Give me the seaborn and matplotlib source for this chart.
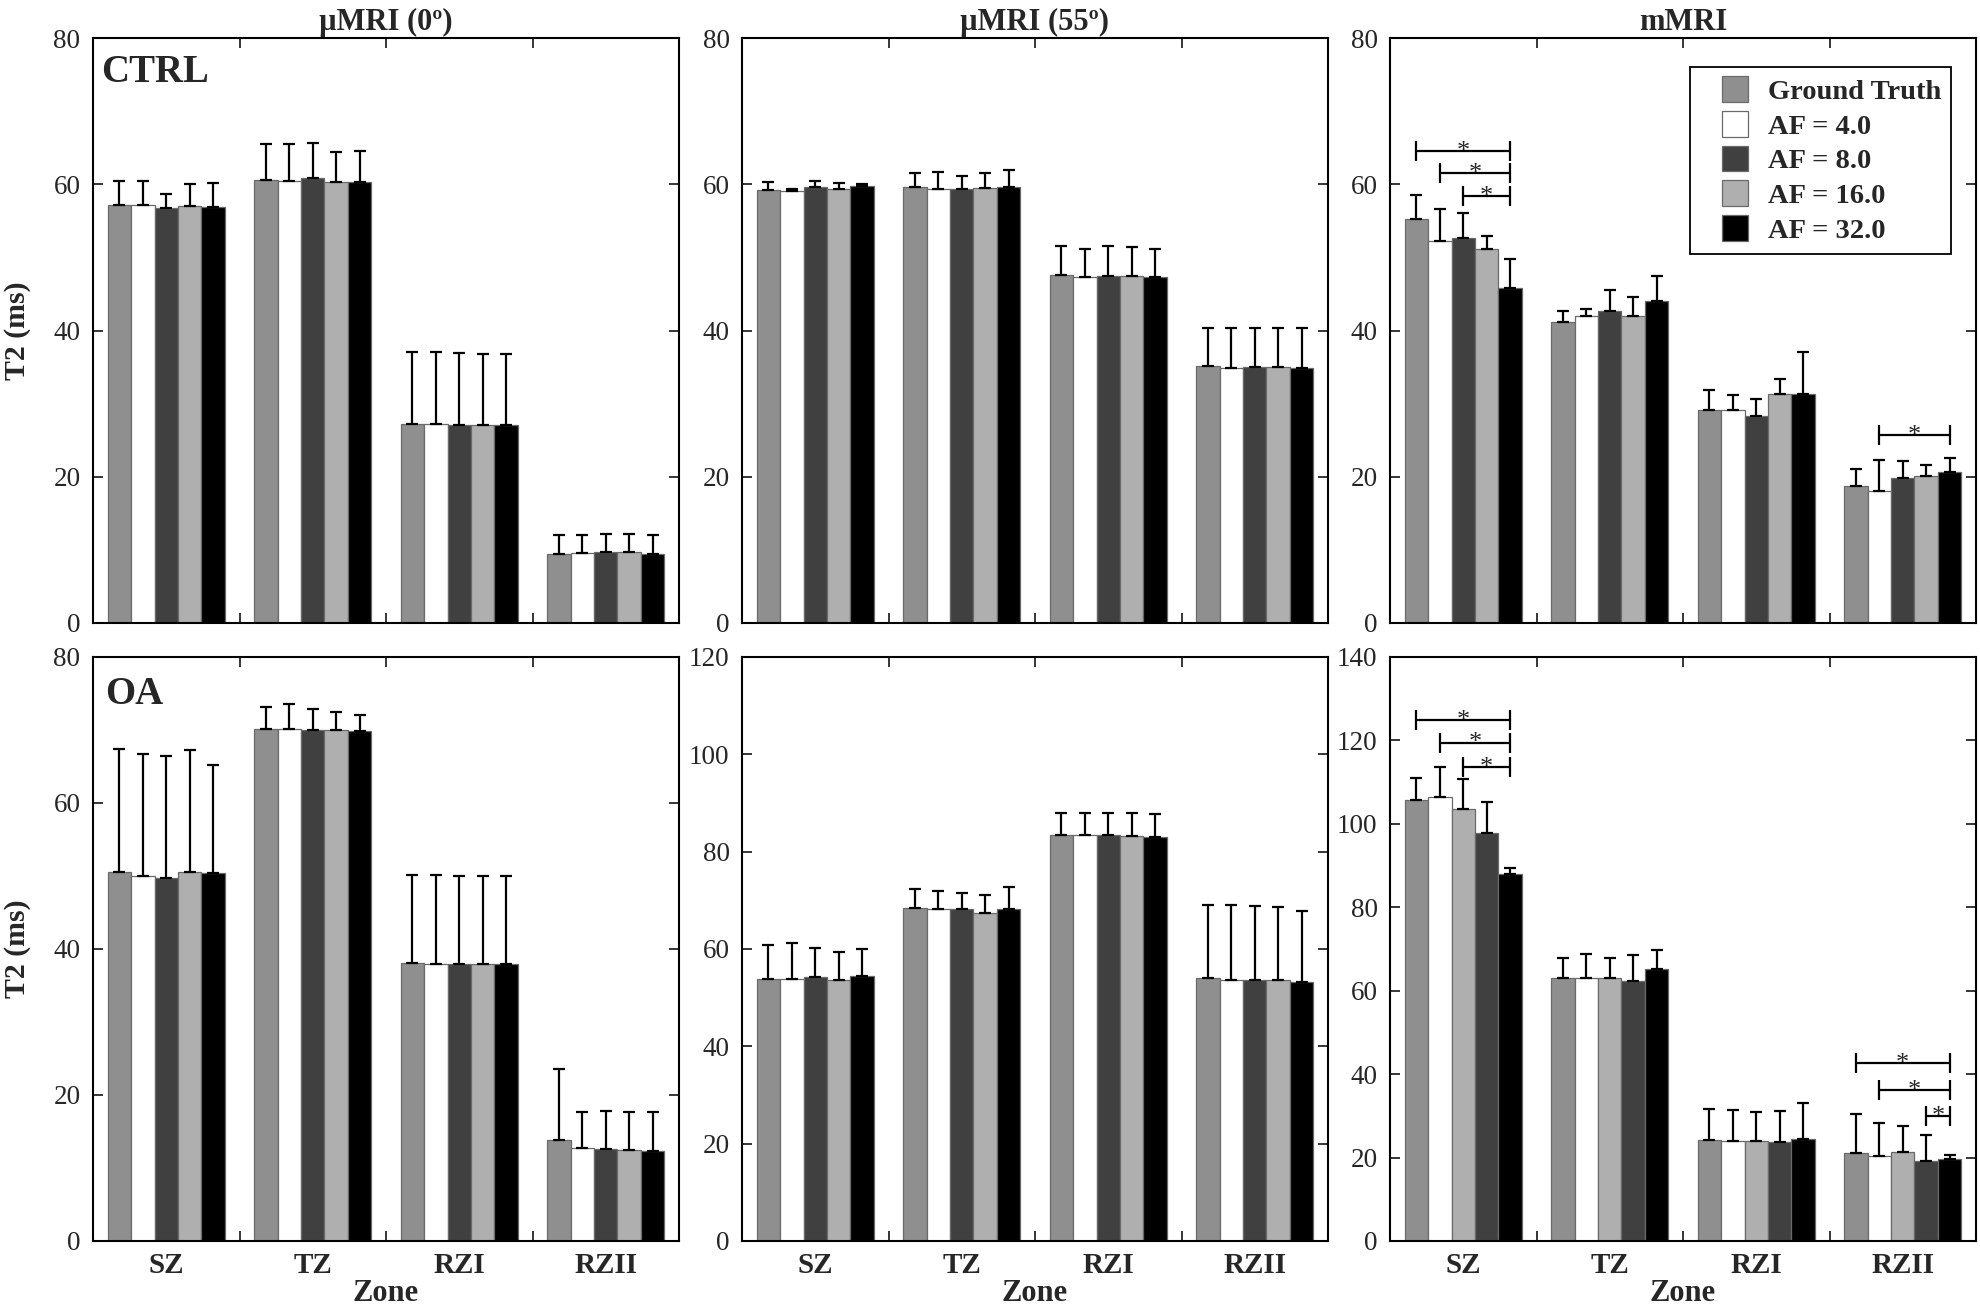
import numpy as np
import pandas as pd
import matplotlib
matplotlib.use('Agg')
import matplotlib.pyplot as plt
from matplotlib.container import BarContainer
from matplotlib.legend_handler import HandlerPatch
from matplotlib.patches import Rectangle
import seaborn as sns

# ---- data ----
zones = ['SZ', 'TZ', 'RZI', 'RZII']
series = ['Ground Truth', 'AF = 4.0', 'AF = 8.0', 'AF = 16.0', 'AF = 32.0']
col_titles = ['\u00b5MRI (0\u00ba)', '\u00b5MRI (55\u00ba)', 'mMRI']
row_labels = ['CTRL', 'OA']

# mean T2 per zone (rows) and series (columns)
ctrl_0_mean = [[57.1, 57.2, 56.7, 57.0, 56.9], [60.6, 60.4, 60.9, 60.3, 60.3],
               [27.2, 27.2, 27.1, 27.1, 27.1], [9.4, 9.55, 9.7, 9.7, 9.5]]
ctrl_0_err = [[3.3, 3.2, 1.9, 3.1, 3.3], [4.9, 5.1, 4.7, 4.1, 4.2],
              [9.8, 9.8, 9.8, 9.7, 9.7], [2.6, 2.55, 2.5, 2.5, 2.5]]

ctrl_55_mean = [[59.2, 59.1, 59.6, 59.4, 59.8], [59.6, 59.4, 59.4, 59.5, 59.6],
                [47.6, 47.3, 47.5, 47.5, 47.3], [35.1, 34.85, 35.0, 35.0, 34.9]]
ctrl_55_err = [[1.1, 0.3, 0.8, 0.8, 0.3], [2.0, 2.3, 1.7, 2.0, 2.3],
               [4.0, 3.9, 4.0, 3.9, 3.9], [5.3, 5.45, 5.3, 5.3, 5.4]]

ctrl_m_mean = [[55.3, 52.3, 52.6, 51.2, 45.8], [41.2, 42.0, 42.7, 42.05, 44.0],
               [29.1, 29.1, 28.3, 31.3, 31.3], [18.7, 18.0, 19.8, 20.05, 20.6]]
ctrl_m_err = [[3.2, 4.3, 3.5, 1.7, 4.0], [1.5, 0.9, 2.9, 2.55, 3.4],
              [2.75, 2.1, 2.35, 2.1, 5.8], [2.4, 4.3, 2.4, 1.6, 2.0]]

oa_0_mean = [[50.55, 49.97, 49.74, 50.5, 50.4], [70.1, 70.1, 70.0, 70.0, 69.8],
             [38.05, 37.9, 37.9, 37.9, 38.0], [13.9, 12.7, 12.6, 12.5, 12.3]]
oa_0_err = [[16.85, 16.7, 16.7, 16.7, 14.75], [3.0, 3.4, 2.9, 2.5, 2.3],
            [12.05, 12.2, 12.1, 12.1, 12.0], [9.7, 5.0, 5.2, 5.2, 5.4]]

oa_55_mean = [[53.8, 53.8, 54.3, 53.7, 54.5], [68.5, 68.3, 68.2, 67.5, 68.3],
              [83.4, 83.4, 83.4, 83.3, 83.0], [54.0, 53.7, 53.7, 53.6, 53.2]]
oa_55_err = [[7.1, 7.5, 6.0, 5.6, 5.4], [3.8, 3.6, 3.4, 3.6, 4.5],
             [4.5, 4.5, 4.6, 4.7, 4.7], [15.0, 15.3, 15.2, 15.1, 14.7]]

oa_m_mean = [[105.6, 106.5, 103.6, 97.8, 88.0], [63.1, 63.1, 63.1, 62.4, 65.3],
             [24.3, 24.0, 23.9, 23.8, 24.4], [21.0, 20.3, 21.3, 19.2, 19.55]]
oa_m_err = [[5.5, 7.1, 7.1, 7.5, 1.5], [4.8, 5.6, 4.7, 6.2, 4.4],
            [7.4, 7.5, 7.0, 7.3, 8.7], [9.5, 7.9, 6.2, 6.3, 1.05]]

y_max = [[80, 80, 80], [80, 120, 140]]

# significance brackets: (zone, from series index, to series index, height)
ctrl_m_sig = [('SZ', 0, 4, 64.6), ('SZ', 1, 4, 61.5), ('SZ', 2, 4, 58.4),
              ('RZII', 1, 4, 25.75)]
oa_m_sig = [('SZ', 0, 4, 124.9), ('SZ', 1, 4, 119.5), ('SZ', 2, 4, 113.6),
            ('RZII', 0, 4, 42.7), ('RZII', 1, 4, 36.2), ('RZII', 3, 4, 30.0)]

GRAY, WHITE, DARK, LIGHT, BLACK = '#8f8f8f', '#ffffff', '#404040', '#afafaf', '#000000'
pal_std = [GRAY, WHITE, DARK, LIGHT, BLACK]
pal_swap = [GRAY, WHITE, LIGHT, DARK, BLACK]   # bottom-right panel in the original

# ---- style ----
sns.set_style('ticks')
plt.rcParams['font.family'] = ['Liberation Serif', 'DejaVu Serif']

fig = plt.figure(figsize=(19.8, 13.07), dpi=100)
W, H = 1980, 1307
col_x = [93, 742, 1390]
col_w = 586
row_y = [(38, 623), (657, 1241)]


def make_df(means):
    rows = []
    for zi, z in enumerate(zones):
        for si, s in enumerate(series):
            rows.append({'zone': z, 'af': s, 't2': means[zi][si]})
    return pd.DataFrame(rows)


def draw_panel(ax, means, errs, palette, ymax, show_legend=False):
    df = make_df(means)
    sns.barplot(data=df, x='zone', y='t2', hue='af', order=zones, hue_order=series,
                palette=palette, errorbar=None, width=0.8, edgecolor='#6a6a6a',
                linewidth=0.9, saturation=1, legend=show_legend, ax=ax)
    bars = [c for c in ax.containers if isinstance(c, BarContainer)]
    # one-sided error bars from bar geometry
    for si, cont in enumerate(bars):
        xs = [b.get_x() + b.get_width() / 2 for b in cont]
        hs = [b.get_height() for b in cont]
        up = [errs[zi][si] for zi in range(len(zones))]
        ax.errorbar(xs, hs, yerr=[np.zeros(len(up)), up], fmt='none', ecolor='black',
                    elinewidth=1.6, capsize=4, capthick=1.6, zorder=5)
    ax.set_xlim(-0.5, len(zones) - 0.5)
    ax.set_ylim(0, ymax)
    ax.set_yticks(np.arange(0, ymax + 1, 20))
    ax.set_xticks(range(len(zones)))
    ax.set_xticks([0.5, 1.5, 2.5], minor=True)
    ax.tick_params(axis='x', which='major', length=0, labelsize=21, pad=8)
    ax.tick_params(axis='x', which='minor', direction='in', length=7, width=1.3,
                   top=True, bottom=True)
    ax.tick_params(axis='y', which='major', direction='in', length=7, width=1.3,
                   left=True, right=True, labelsize=19.5, pad=9)
    for lab in ax.get_xticklabels():
        lab.set_fontweight('bold')
    for sp in ax.spines.values():
        sp.set_linewidth(1.5)
        sp.set_color('black')
    ax.set_xlabel('')
    ax.set_ylabel('')
    return bars


def draw_sig(ax, bars, sig):
    for zone, a, b, y in sig:
        zi = zones.index(zone)
        ba = bars[a][zi]
        bb = bars[b][zi]
        x0 = ba.get_x() + ba.get_width() / 2
        x1 = bb.get_x() + bb.get_width() / 2
        ax.plot([x0, x1], [y, y], color='black', lw=1.6, zorder=6)
        ax.plot([x0, x1], [y, y], ls='none', marker='|', ms=14, mew=1.6,
                color='black', zorder=6)
        ax.annotate('*', ((x0 + x1) / 2, y), xytext=(0, -5), textcoords='offset points',
                    ha='center', va='baseline', fontsize=19, zorder=7)


def square_patch(legend, orig_handle, xdescent, ydescent, width, height, fontsize):
    # square swatch pushed to the right end of the handle box
    side = 0.9 * fontsize
    return Rectangle((-xdescent + width - side, -ydescent + (height - side) / 2),
                     side, side)


panel_means = [[ctrl_0_mean, ctrl_55_mean, ctrl_m_mean], [oa_0_mean, oa_55_mean, oa_m_mean]]
panel_errs = [[ctrl_0_err, ctrl_55_err, ctrl_m_err], [oa_0_err, oa_55_err, oa_m_err]]

for r in range(2):
    top, bot = row_y[r]
    for c in range(3):
        rect = [col_x[c] / W, 1 - bot / H, col_w / W, (bot - top) / H]
        ax = fig.add_axes(rect)
        pal = pal_swap if (r == 1 and c == 2) else pal_std
        legend_on = (r == 0 and c == 2)
        bars = draw_panel(ax, panel_means[r][c], panel_errs[r][c], pal, y_max[r][c], legend_on)
        if r == 0:
            ax.set_title(col_titles[c], fontsize=22, fontweight='bold', pad=6)
            ax.set_xticklabels([])
        else:
            ax.set_xlabel('Zone', fontsize=22, fontweight='bold', labelpad=0)
        if c == 0:
            ax.set_ylabel('T2 (ms)', fontsize=21.5, fontweight='bold')
            ax.yaxis.set_label_coords(-0.105, 0.5)
            ax.text(0.014 if r == 0 else 0.02, 0.972 if r == 0 else 0.967, row_labels[r],
                    transform=ax.transAxes, ha='left', va='top', fontsize=28,
                    fontweight='bold')
        if legend_on:
            handles, labels = ax.get_legend_handles_labels()
            leg = ax.legend(handles, labels, loc='upper right',
                            bbox_to_anchor=(0.957, 0.950), borderaxespad=0,
                            frameon=True, fancybox=False, edgecolor='black',
                            framealpha=1, handlelength=1.67, handleheight=0.9,
                            handletextpad=0.7, labelspacing=0.25, borderpad=0.35,
                            handler_map={h: HandlerPatch(patch_func=square_patch)
                                         for h in handles},
                            prop={'size': 20.5, 'weight': 'bold'})
            leg.get_frame().set_linewidth(1.3)
        if r == 0 and c == 2:
            draw_sig(ax, bars, ctrl_m_sig)
        if r == 1 and c == 2:
            draw_sig(ax, bars, oa_m_sig)

fig.savefig('out.png', dpi=100)
